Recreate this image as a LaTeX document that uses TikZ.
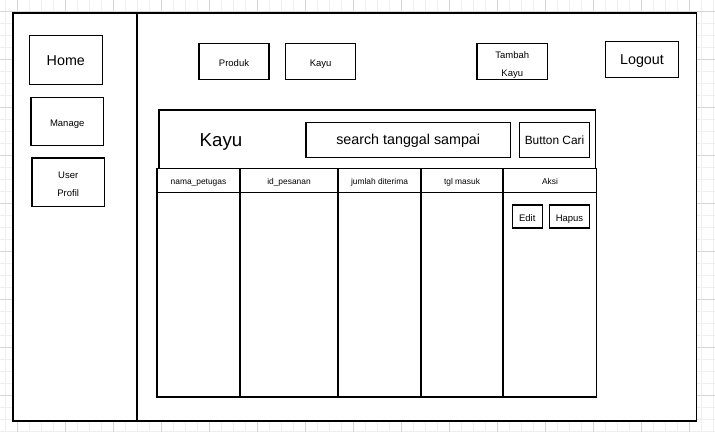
\documentclass[tikz,border=0pt]{standalone}
\usepackage{fontspec}
\setmainfont{Liberation Sans}
\usetikzlibrary{positioning}
\definecolor{gridminor}{HTML}{EFEFEF}
\definecolor{gridmajor}{HTML}{D6D6D6}
\begin{document}
\begin{tikzpicture}[x=1pt, y=-1pt,
  box/.style={rectangle, draw=black, line width=1.2pt, fill=white, inner sep=0pt, align=center,
    execute at begin node=\strut, execute at end node=\strut},
  smalltext/.style={font=\fontsize{9.5}{23}\selectfont},
  twoline/.style={font=\fontsize{9.5}{18}\selectfont, execute at begin node={}, execute at end node={}},
  bigtext/.style={font=\fontsize{14.3}{27}\selectfont},
  headtext/.style={font=\fontsize{8.4}{20}\selectfont}]
\useasboundingbox (0,0) rectangle (715,432);

% Grid
\begin{scope}
\clip (0,0) rectangle (715,432);
\foreach \x in {5.33,17.33,...,715} \draw[gridminor, line width=1pt] (\x,0) -- (\x,432);
\foreach \y in {-0.67,11.33,...,432} \draw[gridminor, line width=1pt] (0,\y) -- (715,\y);
\foreach \x in {17.33,65.33,...,715} \draw[gridmajor, line width=1pt] (\x,0) -- (\x,432);
\foreach \y in {11.33,59.33,...,432} \draw[gridmajor, line width=1pt] (0,\y) -- (715,\y);
\end{scope}

% Frame and sidebar
\node (frame) [box, anchor=north west, minimum width=683.7pt, minimum height=408pt, line width=1.5pt] at (12,12) {};
\draw[line width=1.2pt] ([xshift=125pt]frame.north west) -- ([xshift=125pt]frame.south west);

\node (home) [box, bigtext, minimum width=73pt, minimum height=48.6pt] at (65.8,60) {Home};
\node (manage) [box, smalltext, minimum width=72.3pt, minimum height=48.4pt] at (67.2,121.5) {Manage};
\node (user) [box, twoline, text height=30pt, text depth=2.4pt, minimum width=72.3pt, minimum height=48.3pt] at (68.2,182.2) {User\\Profil};

% Top menu
\node (produk) [box, smalltext, minimum width=70pt, minimum height=36pt] at (234,61.8) {Produk};
\node (kayu) [box, smalltext, minimum width=70.3pt, minimum height=36pt, right=15.3pt of produk] {Kayu};
\node (tambah) [box, twoline, text height=32pt, text depth=3.6pt, minimum width=70.6pt, minimum height=36pt] at (512.3,61.8) {Tambah\\Kayu};
\node (logout) [box, bigtext, minimum width=72.7pt, minimum height=36.5pt] at (642,59.5) {Logout};

% Content panel
\node (panel) [box, anchor=north west, minimum width=436.7pt, minimum height=59pt] at (158.3,109.3) {};
\node (judul) [font=\fontsize{18.7}{33.5}\selectfont, execute at begin node=\strut] at (221,140) {Kayu};
\node (search) [box, font=\fontsize{14.3}{23}\selectfont, minimum width=204.3pt, minimum height=35pt] at (408.2,139.8) {search tanggal sampai};
\node (cari) [box, font=\fontsize{11.9}{22.5}\selectfont, minimum width=70.4pt, minimum height=35pt, right=7.8pt of search] {Button Cari};

% Table
\foreach \name/\l/\r/\txt in {nama/157/240/nama\_petugas, idpesan/240.7/337.3/id\_pesanan, jumlah/338/421/jumlah diterima, tgl/421.7/502.3/tgl masuk, aksi/503.3/596.7/Aksi} {
  \node (\name-body) [box, minimum width={\r-\l}, minimum height=204.7pt] at ({(\l+\r)/2},294.65) {};
  \node (\name-head) [box, headtext, minimum width={\r-\l}, minimum height=24pt] at ({(\l+\r)/2},180.3) {\txt};
}

\node (edit) [box, smalltext, minimum width=30pt, minimum height=21.6pt] at (527.3,216.5) {Edit};
\node (hapus) [box, smalltext, minimum width=40.4pt, minimum height=21pt, right=5.8pt of edit] {Hapus};

\end{tikzpicture}
\end{document}
